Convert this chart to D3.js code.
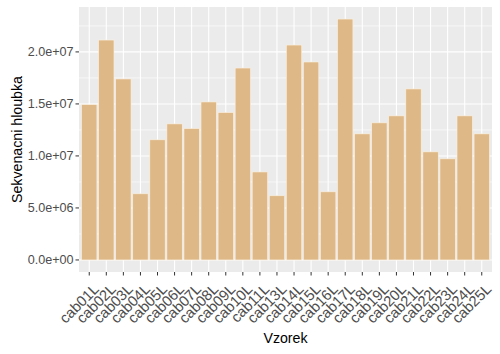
<!DOCTYPE html>
<html><head><meta charset="utf-8">
<script src="https://cdn.jsdelivr.net/npm/d3@7"></script>
<style>body{margin:0;background:#fff}svg{display:block;font-family:"Liberation Sans",Arial,sans-serif}</style>
</head><body><svg id="c" width="500" height="354"></svg>
<script>
const samples = ["cab01L","cab02L","cab03L","cab04L","cab05L","cab06L","cab07L","cab08L","cab09L","cab10L","cab11L","cab13L","cab14L","cab15L","cab16L","cab17L","cab18L","cab19L","cab20L","cab21L","cab22L","cab23L","cab24L","cab25L"];
const depth = [14.93e6,21.14e6,17.40e6,6.36e6,11.55e6,13.08e6,12.63e6,15.19e6,14.17e6,18.45e6,8.46e6,6.17e6,20.66e6,19.03e6,6.55e6,23.16e6,12.12e6,13.18e6,13.85e6,16.44e6,10.39e6,9.72e6,13.85e6,12.12e6];
const yTicks = [0,5e6,1e7,1.5e7,2e7];
const yTickLabels = ["0.0e+00","5.0e+06","1.0e+07","1.5e+07","2.0e+07"];
const yMinor = [2.5e6,7.5e6,1.25e7,1.75e7,2.25e7];

const svg = d3.select("#c");
const L=79,R=492,T=7,B=272;
const maxV = d3.max(depth);
const y = d3.scaleLinear().domain([-0.05*maxV, maxV*1.05]).range([B,T]);
const unit = (R-L)/(samples.length+0.2);
const x = d3.scalePoint().domain(samples).range([L+unit*0.6, R-unit*0.6]);
const xc = d => x(d);
const bw = unit*0.9;

svg.append("rect").attr("x",L).attr("y",T).attr("width",R-L).attr("height",B-T).attr("fill","#EBEBEB");
const g = svg.append("g");
yMinor.forEach(v=>g.append("line").attr("x1",L).attr("x2",R).attr("y1",y(v)).attr("y2",y(v)).attr("stroke","#fff").attr("stroke-width",0.6));
yTicks.forEach(v=>g.append("line").attr("x1",L).attr("x2",R).attr("y1",y(v)).attr("y2",y(v)).attr("stroke","#fff").attr("stroke-width",1.1));
samples.forEach(s=>g.append("line").attr("x1",xc(s)).attr("x2",xc(s)).attr("y1",T).attr("y2",B).attr("stroke","#fff").attr("stroke-width",1.1));

svg.append("g").selectAll("rect").data(samples).join("rect")
  .attr("x",s=>xc(s)-bw/2).attr("width",bw)
  .attr("y",(s,i)=>y(depth[i])).attr("height",(s,i)=>y(0)-y(depth[i]))
  .attr("fill","#DEB887").attr("stroke","#FCF0DE").attr("stroke-width",0.6);

const ya = svg.append("g");
yTicks.forEach((v,i)=>{
  ya.append("line").attr("x1",L-3.5).attr("x2",L).attr("y1",y(v)).attr("y2",y(v)).attr("stroke","#333").attr("stroke-width",1);
  ya.append("text").attr("x",L-5.5).attr("y",y(v)).attr("dy","0.36em").attr("text-anchor","end")
    .attr("font-size",12.6).attr("fill","#4D4D4D").text(yTickLabels[i]);
});
const xa = svg.append("g");
samples.forEach(s=>{
  xa.append("line").attr("x1",xc(s)).attr("x2",xc(s)).attr("y1",B).attr("y2",B+3.5).attr("stroke","#333");
  xa.append("text").attr("transform",`translate(${xc(s)+3},${B+10.5}) rotate(-45)`)
    .attr("text-anchor","end").attr("dy","0.72em").attr("font-size",14.8).attr("fill","#4D4D4D").text(s);
});
svg.append("text").attr("x",(L+R)/2).attr("y",343).attr("text-anchor","middle").attr("font-size",14.2).attr("fill","#000").text("Vzorek");
svg.append("text").attr("transform",`translate(22,${(T+B)/2}) rotate(-90)`).attr("text-anchor","middle").attr("font-size",14.2).attr("fill","#000").text("Sekvenacni hloubka");
</script></body></html>
